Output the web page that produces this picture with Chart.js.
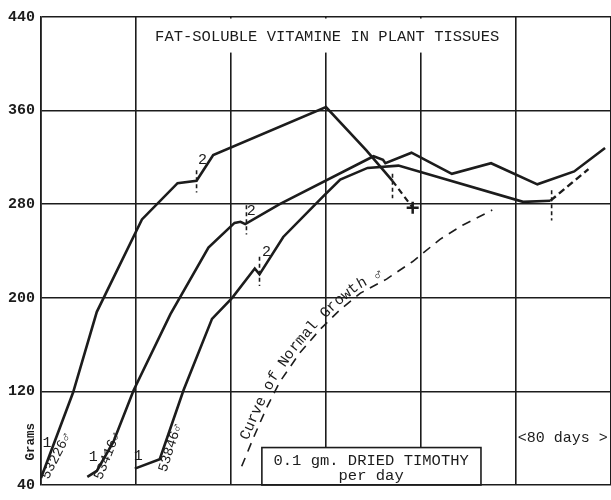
<!DOCTYPE html>
<html>
<head>
<meta charset="utf-8">
<script src="https://cdn.jsdelivr.net/npm/chart.js@4"></script>
<style>
  html, body { margin: 0; padding: 0; background: #fff; }
  #wrap { width: 611px; height: 500px; }
</style>
</head>
<body>
<div id="wrap"><canvas id="growth-chart" width="611" height="500"></canvas></div>
<script>
// Fat-soluble vitamine growth chart

// Axis
const yTicks = [40, 120, 200, 280, 360, 440];
const dayGrid = [0, 80, 160, 240, 320, 400, 480];

// Rat 53226 (dies at the end)
const days53226 = [0, 27, 47, 85, 115, 131, 145, 240, 274, 296];
const grams53226 = [46, 119, 188, 267, 298, 300, 322, 363, 326, 300];
const days53226End = [296, 313];
const grams53226End = [300, 277];

// Rat 53416
const days53416 = [39, 47, 61, 78, 109, 141, 163, 168, 172, 201, 280, 288, 290, 312, 346, 379, 418, 449, 475];
const grams53416 = [47, 52, 77, 121, 186, 243, 264, 265, 263, 280, 321, 318, 315, 324, 306, 315, 297, 308, 328];

// Rat 53846
const days53846 = [79, 100, 120, 144, 161, 180, 184, 204, 237, 252, 275, 301, 406, 429];
const grams53846 = [54, 62, 121, 182, 200, 225, 220, 252, 286, 301, 311, 313, 282, 283];
const days53846End = [429, 461];
const grams53846End = [283, 310];

// Curve of normal growth
const daysNormal = [169, 180, 190, 201, 218, 235, 252, 269, 291, 313, 336, 355, 380];
const gramsNormal = [56, 83, 106, 128, 153, 173, 190, 204, 216, 231, 250, 262, 275];
const normalLabel = 'Curve of Normal Growth \u2642';

// Diet change ticks
const tickDays = [131, 173, 184, 296, 430];
const tickTop = [309, 279, 235, 306, 292];
const tickBottom = [290, 254, 210, 285, 266];

// Period labels (1 = start, 2 = change)
const periodText = ['1', '1', '1', '2', '2', '2'];
const periodDays = [5, 44, 82, 136, 177, 190];
const periodGrams = [76, 64, 65, 318, 274, 239];

// Rat numbers
const ratNames = ['53226\u2642', '53416\u2642', '53846\u2642'];
const ratDays = [13, 56, 109];
const ratGrams = [65, 65, 72];

const INK = '#1c1c1c';
const MONO = '"Liberation Mono", "DejaVu Sans Mono", monospace';

function toPoints(xs, ys) {
  return xs.map((x, i) => ({ x: x, y: ys[i] }));
}

function solid(xs, ys) {
  return {
    data: toPoints(xs, ys),
    borderColor: INK,
    borderWidth: 2.6,
    pointRadius: 0,
    tension: 0
  };
}

function dashed(xs, ys, width, dash) {
  return {
    data: toPoints(xs, ys),
    borderColor: INK,
    borderWidth: width,
    borderDash: dash,
    pointRadius: 0,
    tension: 0
  };
}

// Datasets
const datasets = [
  solid(days53226, grams53226),
  Object.assign(dashed(days53226End, grams53226End, 2.2, [6, 4]), {
    pointRadius: [0, 6],
    pointStyle: 'cross',
    pointBorderWidth: 2.5,
    pointBorderColor: INK
  }),
  solid(days53416, grams53416),
  solid(days53846, grams53846),
  dashed(days53846End, grams53846End, 2.4, [7, 4]),
  dashed(daysNormal, gramsNormal, 1.6, [9, 7])
];

tickDays.forEach((d, i) => {
  datasets.push(dashed([d, d], [tickTop[i], tickBottom[i]], 1.6, [4, 3]));
});

// Force the plot area to the reference frame
const framePlugin = {
  id: 'frame',
  afterLayout(chart) {
    const x = chart.scales.x;
    chart.chartArea.right = chart.width;
    x.right = chart.width;
    x.width = x.right - x.left;
    x.configure();
  }
};

// Write text along the normal growth curve
function drawTextOnCurve(ctx, pts, text, start, step, lift) {
  const segs = [];
  let total = 0;
  for (let i = 1; i < pts.length; i++) {
    const dx = pts[i].x - pts[i - 1].x;
    const dy = pts[i].y - pts[i - 1].y;
    const len = Math.hypot(dx, dy);
    segs.push({ a: pts[i - 1], dx, dy, len, from: total });
    total += len;
  }
  [...text].forEach((ch, i) => {
    const s = start + (i + 0.5) * step;
    const seg = segs.find(g => s <= g.from + g.len) || segs[segs.length - 1];
    const t = (s - seg.from) / seg.len;
    const ux = seg.dx / seg.len;
    const uy = seg.dy / seg.len;
    // smooth the angle with neighbouring segment near the joints
    const px = seg.a.x + seg.dx * t;
    const py = seg.a.y + seg.dy * t;
    const ang = Math.atan2(-uy, -ux) + Math.PI;
    ctx.save();
    ctx.translate(px + uy * lift, py - ux * lift);
    ctx.rotate(ang);
    ctx.fillText(ch, 0, 0);
    ctx.restore();
  });
}

// Text and boxes
const notesPlugin = {
  id: 'notes',
  beforeDatasetsDraw(chart) {
    const { ctx, scales: { x, y } } = chart;
    ctx.save();
    ctx.fillStyle = '#fff';
    // title box
    ctx.fillRect(x.getPixelForValue(80) + 1.5, y.getPixelForValue(440) + 1.5,
      x.getPixelForValue(400) - x.getPixelForValue(80) - 3, y.getPixelForValue(409.6) - y.getPixelForValue(440) - 1.5);
    // diet box
    ctx.fillRect(x.getPixelForValue(186), y.getPixelForValue(72),
      x.getPixelForValue(370.5) - x.getPixelForValue(186), y.getPixelForValue(40) - y.getPixelForValue(72) - 1);
    ctx.restore();
  },
  afterDatasetsDraw(chart) {
    const { ctx, scales: { x, y } } = chart;
    ctx.save();
    ctx.fillStyle = INK;
    ctx.strokeStyle = INK;

    // diet box border
    ctx.lineWidth = 1.6;
    ctx.strokeRect(x.getPixelForValue(186), y.getPixelForValue(72),
      x.getPixelForValue(370.5) - x.getPixelForValue(186), y.getPixelForValue(40) - y.getPixelForValue(72));

    ctx.textAlign = 'center';
    ctx.textBaseline = 'middle';
    ctx.font = '15.5px ' + MONO;
    ctx.fillText('FAT-SOLUBLE VITAMINE IN PLANT TISSUES', x.getPixelForValue(241), y.getPixelForValue(423));
    ctx.fillText('0.1 gm. DRIED TIMOTHY', x.getPixelForValue(278), y.getPixelForValue(60.5));
    ctx.fillText('per day', x.getPixelForValue(278), y.getPixelForValue(48));

    ctx.textAlign = 'left';
    ctx.font = '15px ' + MONO;
    ctx.fillText('<80 days >', x.getPixelForValue(401.5), y.getPixelForValue(80));

    // Grams
    ctx.save();
    ctx.translate(chart.chartArea.left - 10, y.getPixelForValue(77));
    ctx.rotate(-Math.PI / 2);
    ctx.textAlign = 'center';
    ctx.font = 'bold 12.5px ' + MONO;
    ctx.fillText('Grams', 0, 0);
    ctx.restore();

    // period labels
    ctx.textAlign = 'center';
    ctx.font = '15px ' + MONO;
    periodText.forEach((t, i) => {
      ctx.fillText(t, x.getPixelForValue(periodDays[i]), y.getPixelForValue(periodGrams[i]));
    });

    // rat numbers
    const angles = [-63, -68, -72];
    ctx.font = '14px ' + MONO;
    ratNames.forEach((t, i) => {
      ctx.save();
      ctx.translate(x.getPixelForValue(ratDays[i]), y.getPixelForValue(ratGrams[i]));
      ctx.rotate(angles[i] * Math.PI / 180);
      ctx.fillText(t, 0, 0);
      ctx.restore();
    });

    // normal growth label, sitting on the dashed curve
    const pts = daysNormal.map((d, i) => ({ x: x.getPixelForValue(d), y: y.getPixelForValue(gramsNormal[i]) }));
    ctx.font = '15px ' + MONO;
    ctx.textBaseline = 'alphabetic';
    drawTextOnCurve(ctx, pts, normalLabel, 26, 9, 4);

    ctx.restore();
  }
};

// Render chart
function renderGrowthChart() {
  const canvas = document.getElementById('growth-chart');
  new Chart(canvas.getContext('2d'), {
    type: 'line',
    data: { datasets: datasets },
    options: {
      responsive: false,
      animation: false,
      layout: { padding: { top: 17, right: 0, bottom: 9, left: 0 } },
      plugins: {
        legend: { display: false },
        tooltip: { enabled: false }
      },
      scales: {
        x: {
          type: 'linear',
          min: dayGrid[0],
          max: dayGrid[dayGrid.length - 1],
          afterBuildTicks: (scale) => { scale.ticks = dayGrid.map(v => ({ value: v })); },
          afterFit: (scale) => { scale.height = 0; scale.paddingLeft = 0; scale.paddingRight = 0; },
          ticks: { display: false },
          border: { display: false },
          grid: { color: INK, lineWidth: 1.6, drawTicks: false }
        },
        y: {
          type: 'linear',
          min: yTicks[0],
          max: yTicks[yTicks.length - 1],
          afterBuildTicks: (scale) => { scale.ticks = yTicks.map(v => ({ value: v })); },
          afterFit: (scale) => { scale.width = 41; },
          ticks: {
            color: INK,
            padding: 6,
            font: { family: MONO, size: 15, weight: 'bold' }
          },
          border: { color: INK, width: 1.6 },
          grid: { color: INK, lineWidth: 1.6, drawTicks: false }
        }
      }
    },
    plugins: [framePlugin, notesPlugin]
  });
}

renderGrowthChart();
</script>
</body>
</html>
